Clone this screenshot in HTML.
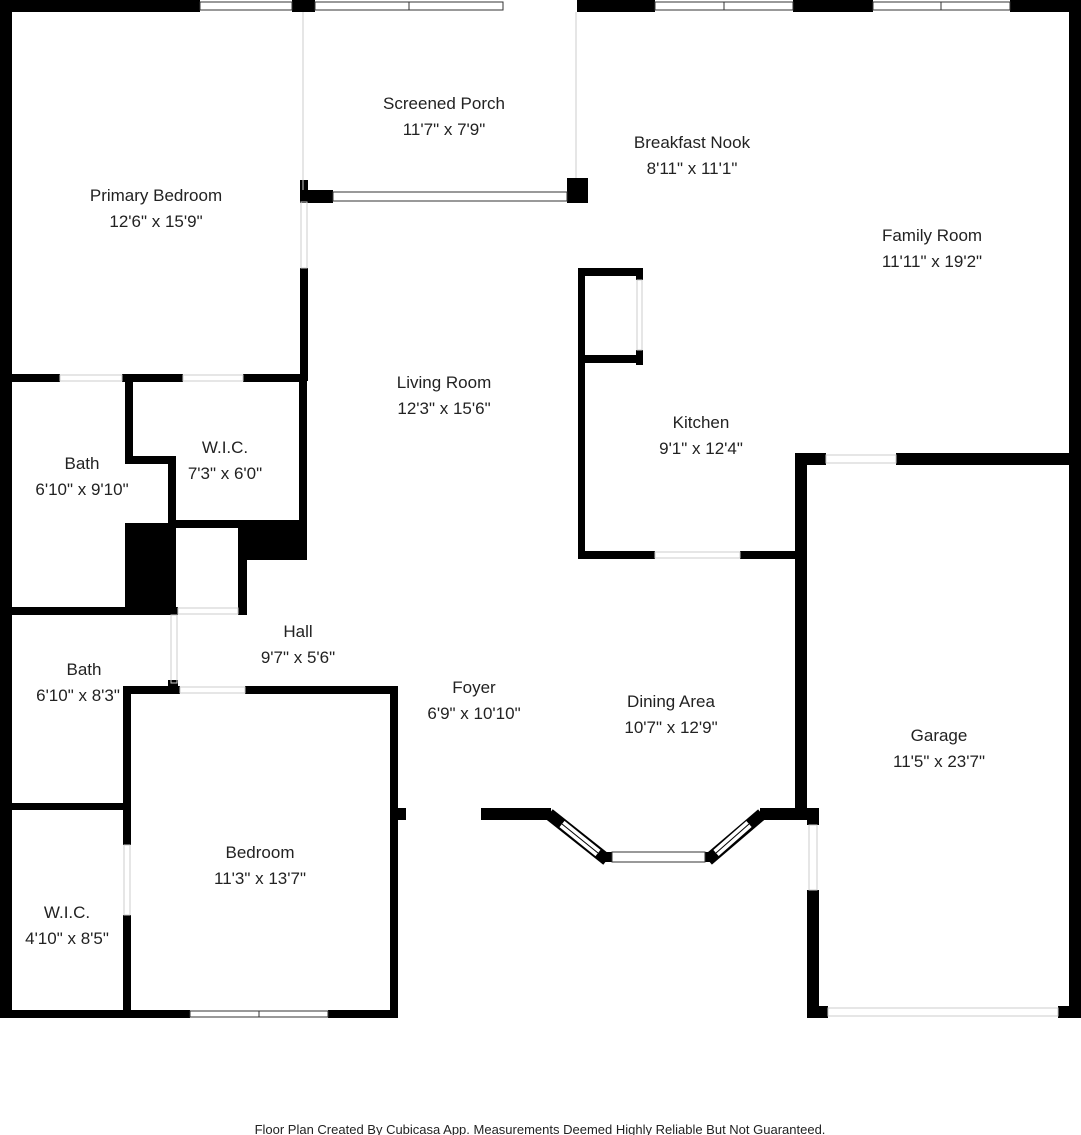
<!DOCTYPE html>
<html><head><meta charset="utf-8"><style>
html,body{margin:0;padding:0;background:#fff;}
svg{display:block;}
text{font-family:"Liberation Sans",sans-serif;font-size:17px;fill:#222;text-anchor:middle;}
</style></head><body>
<svg width="1081" height="1135" viewBox="0 0 1081 1135" xmlns="http://www.w3.org/2000/svg">
<g fill="#000">
<rect x="0" y="0" width="200" height="12"/>
<rect x="292" y="0" width="23" height="12"/>
<rect x="577" y="0" width="78" height="12"/>
<rect x="793" y="0" width="80" height="12"/>
<rect x="1010" y="0" width="71" height="12"/>
<rect x="0" y="0" width="12" height="1018"/>
<rect x="1069" y="0" width="12" height="1018"/>
<rect x="300" y="180" width="8" height="22"/>
<rect x="300" y="268" width="8" height="113"/>
<rect x="300" y="190" width="33" height="13"/>
<rect x="567" y="178" width="21" height="25"/>
<rect x="12" y="374" width="48" height="8"/>
<rect x="122" y="374" width="61" height="8"/>
<rect x="243" y="374" width="64" height="8"/>
<rect x="125" y="374" width="8" height="90"/>
<rect x="125" y="456" width="51" height="8"/>
<rect x="168" y="456" width="8" height="159"/>
<rect x="168" y="520" width="139" height="8"/>
<rect x="125" y="523" width="51" height="92"/>
<rect x="240" y="520" width="67" height="40"/>
<rect x="238" y="520" width="9" height="95"/>
<rect x="12" y="607" width="166" height="8"/>
<rect x="299" y="374" width="8" height="186"/>
<rect x="168" y="680" width="10" height="13"/>
<rect x="125" y="686" width="55" height="8"/>
<rect x="245" y="686" width="153" height="8"/>
<rect x="390" y="686" width="8" height="332"/>
<rect x="398" y="808" width="8" height="12"/>
<rect x="12" y="803" width="113" height="7"/>
<rect x="123" y="686" width="8" height="159"/>
<rect x="123" y="915" width="8" height="103"/>
<rect x="0" y="1010" width="190" height="8"/>
<rect x="328" y="1010" width="70" height="8"/>
<rect x="578" y="268" width="65" height="8"/>
<rect x="578" y="268" width="7" height="291"/>
<rect x="636" y="268" width="7" height="12"/>
<rect x="636" y="350" width="7" height="15"/>
<rect x="585" y="355" width="58" height="8"/>
<rect x="578" y="551" width="77" height="8"/>
<rect x="740" y="551" width="60" height="8"/>
<rect x="795" y="453" width="31" height="12"/>
<rect x="896" y="453" width="185" height="12"/>
<rect x="795" y="453" width="12" height="367"/>
<rect x="807" y="808" width="12" height="17"/>
<rect x="807" y="890" width="12" height="128"/>
<rect x="807" y="1006" width="21" height="12"/>
<rect x="1058" y="1006" width="23" height="12"/>
<rect x="481" y="808" width="70" height="12"/>
<rect x="760" y="808" width="47" height="12"/>
</g>
<g stroke-linecap="butt" fill="none">
<line x1="549" y1="814" x2="607" y2="860" stroke="#000" stroke-width="12"/>
<line x1="762" y1="814" x2="708" y2="860" stroke="#000" stroke-width="12"/>
<line x1="562" y1="824" x2="598" y2="853" stroke="#fff" stroke-width="8"/>
<line x1="749" y1="824" x2="716" y2="853" stroke="#fff" stroke-width="8"/>
<line x1="562" y1="824" x2="598" y2="853" stroke="#000" stroke-width="1"/>
<line x1="749" y1="824" x2="716" y2="853" stroke="#000" stroke-width="1"/>
<rect x="604" y="852" width="8" height="10" fill="#000"/>
<rect x="705" y="852" width="8" height="10" fill="#000"/>
</g>
<g fill="#fff" stroke="#333" stroke-width="1">
<rect x="200" y="2" width="92" height="8"/>
<rect x="315" y="2" width="94" height="8"/>
<rect x="409" y="2" width="94" height="8"/>
<rect x="655" y="2" width="69" height="8"/>
<rect x="724" y="2" width="69" height="8"/>
<rect x="873" y="2" width="68" height="8"/>
<rect x="941" y="2" width="69" height="8"/>
<rect x="333" y="192" width="234" height="9"/>
<rect x="190" y="1011" width="69" height="6"/>
<rect x="259" y="1011" width="69" height="6"/>
<rect x="612" y="852" width="93" height="10"/>
</g>
<g stroke="#ccc" stroke-width="1" fill="none">
<line x1="303" y1="12" x2="303" y2="190"/>
<line x1="576" y1="12" x2="576" y2="178"/>
<rect x="60" y="375" width="62" height="6"/>
<rect x="183" y="375" width="60" height="6"/>
<rect x="178" y="608" width="60" height="6"/>
<rect x="171" y="615" width="6" height="68"/>
<rect x="180" y="687" width="65" height="6"/>
<rect x="124" y="845" width="6" height="70"/>
<rect x="301" y="202" width="6" height="66"/>
<rect x="637" y="280" width="5" height="70"/>
<rect x="655" y="552" width="85" height="6"/>
<rect x="826" y="455" width="70" height="8"/>
<rect x="809" y="825" width="8" height="65"/>
<rect x="828" y="1008" width="230" height="8"/>
</g>
<text x="444" y="109">Screened Porch</text>
<text x="444" y="135">11'7" x 7'9"</text>
<text x="692" y="148">Breakfast Nook</text>
<text x="692" y="174">8'11" x 11'1"</text>
<text x="156" y="201">Primary Bedroom</text>
<text x="156" y="227">12'6" x 15'9"</text>
<text x="932" y="241">Family Room</text>
<text x="932" y="267">11'11" x 19'2"</text>
<text x="444" y="388">Living Room</text>
<text x="444" y="414">12'3" x 15'6"</text>
<text x="701" y="428">Kitchen</text>
<text x="701" y="454">9'1" x 12'4"</text>
<text x="82" y="469">Bath</text>
<text x="82" y="495">6'10" x 9'10"</text>
<text x="225" y="453">W.I.C.</text>
<text x="225" y="479">7'3" x 6'0"</text>
<text x="298" y="637">Hall</text>
<text x="298" y="663">9'7" x 5'6"</text>
<text x="84" y="675">Bath</text>
<text x="78" y="701">6'10" x 8'3"</text>
<text x="474" y="693">Foyer</text>
<text x="474" y="719">6'9" x 10'10"</text>
<text x="671" y="707">Dining Area</text>
<text x="671" y="733">10'7" x 12'9"</text>
<text x="939" y="741">Garage</text>
<text x="939" y="767">11'5" x 23'7"</text>
<text x="260" y="858">Bedroom</text>
<text x="260" y="884">11'3" x 13'7"</text>
<text x="67" y="918">W.I.C.</text>
<text x="67" y="944">4'10" x 8'5"</text>
<text x="540" y="1134" style="font-size:13px">Floor Plan Created By Cubicasa App. Measurements Deemed Highly Reliable But Not Guaranteed.</text>
</svg>
</body></html>
